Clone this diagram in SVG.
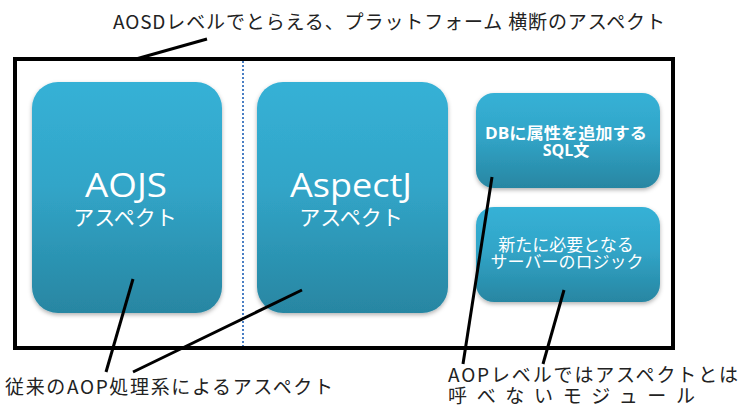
<svg xmlns="http://www.w3.org/2000/svg" width="740" height="405" viewBox="0 0 740 405">
  <defs>
    <linearGradient id="g" x1="0" y1="0" x2="0" y2="1">
      <stop offset="0" stop-color="#36b1d6"/>
      <stop offset="0.45" stop-color="#31a5c8"/>
      <stop offset="1" stop-color="#2886a2"/>
    </linearGradient>
    <filter id="sh" x="-10%" y="-10%" width="120%" height="125%">
      <feDropShadow dx="0" dy="2" stdDeviation="2" flood-color="#000" flood-opacity="0.3"/>
    </filter>
    <style>
      .box { fill: url(#g); filter: url(#sh); }
      .wt { fill: #ffffff; font-family: "Open Sans", "Noto Sans CJK JP", sans-serif; text-anchor: middle; }
      .lbl { fill: #222; font-family: "Noto Sans CJK JP", sans-serif; font-size: 19px; }
      .lead { stroke: #000; stroke-width: 3; fill: none; stroke-linecap: butt; }
    </style>
  </defs>
  <rect width="740" height="405" fill="#fff"/>

  <g id="frame">
    <rect x="15" y="59" width="658" height="289" fill="none" stroke="#000" stroke-width="4"/>
    <line x1="243" y1="61" x2="243" y2="346" stroke="#4a7fc4" stroke-width="2" stroke-dasharray="2,2"/>
  </g>

  <g id="aojs">
    <rect class="box" x="32" y="82" width="190" height="231" rx="26"/>
    <text class="wt" x="126" y="197" font-size="32" textLength="82" lengthAdjust="spacingAndGlyphs">AOJS</text>
    <text class="wt" x="125" y="225" font-size="21">アスペクト</text>
  </g>

  <g id="aspectj">
    <rect class="box" x="257" y="82" width="191" height="231" rx="26"/>
    <text class="wt" x="351" y="197" font-size="32" textLength="122" lengthAdjust="spacingAndGlyphs">AspectJ</text>
    <text class="wt" x="351" y="225" font-size="21">アスペクト</text>
  </g>

  <g id="sql">
    <rect class="box" x="476" y="93" width="184" height="95" rx="18"/>
    <text class="wt" x="566" y="139" font-size="16" font-weight="bold" textLength="162" lengthAdjust="spacingAndGlyphs">DBに属性を追加する</text>
    <text class="wt" x="566" y="156" font-size="16" font-weight="bold">SQL文</text>
  </g>

  <g id="logic">
    <rect class="box" x="476" y="207" width="184" height="95" rx="18"/>
    <text class="wt" x="566" y="251" font-size="17">新たに必要となる</text>
    <text class="wt" x="567" y="268" font-size="17">サーバーのロジック</text>
  </g>

  <g id="connectors">
    <line class="lead" x1="207" y1="39" x2="136" y2="59"/>
    <line class="lead" x1="133" y1="279" x2="106" y2="372"/>
    <line class="lead" x1="302" y1="290" x2="133" y2="372"/>
    <line class="lead" x1="492" y1="177" x2="463" y2="364"/>
    <line class="lead" x1="564" y1="290" x2="543" y2="364"/>
  </g>

  <g id="labels">
    <text class="lbl" x="113" y="29" font-size="20" textLength="552" lengthAdjust="spacing">AOSDレベルでとらえる、プラットフォーム 横断のアスペクト</text>
    <text class="lbl" x="5" y="394" font-size="21" textLength="328" lengthAdjust="spacing">従来のAOP処理系によるアスペクト</text>
    <text class="lbl" x="448" y="382" font-size="20" textLength="290" lengthAdjust="spacing">AOPレベルではアスペクトとは</text>
    <text class="lbl" x="448" y="403" font-size="20" textLength="247" lengthAdjust="spacing">呼べないモジュール</text>
  </g>
</svg>
